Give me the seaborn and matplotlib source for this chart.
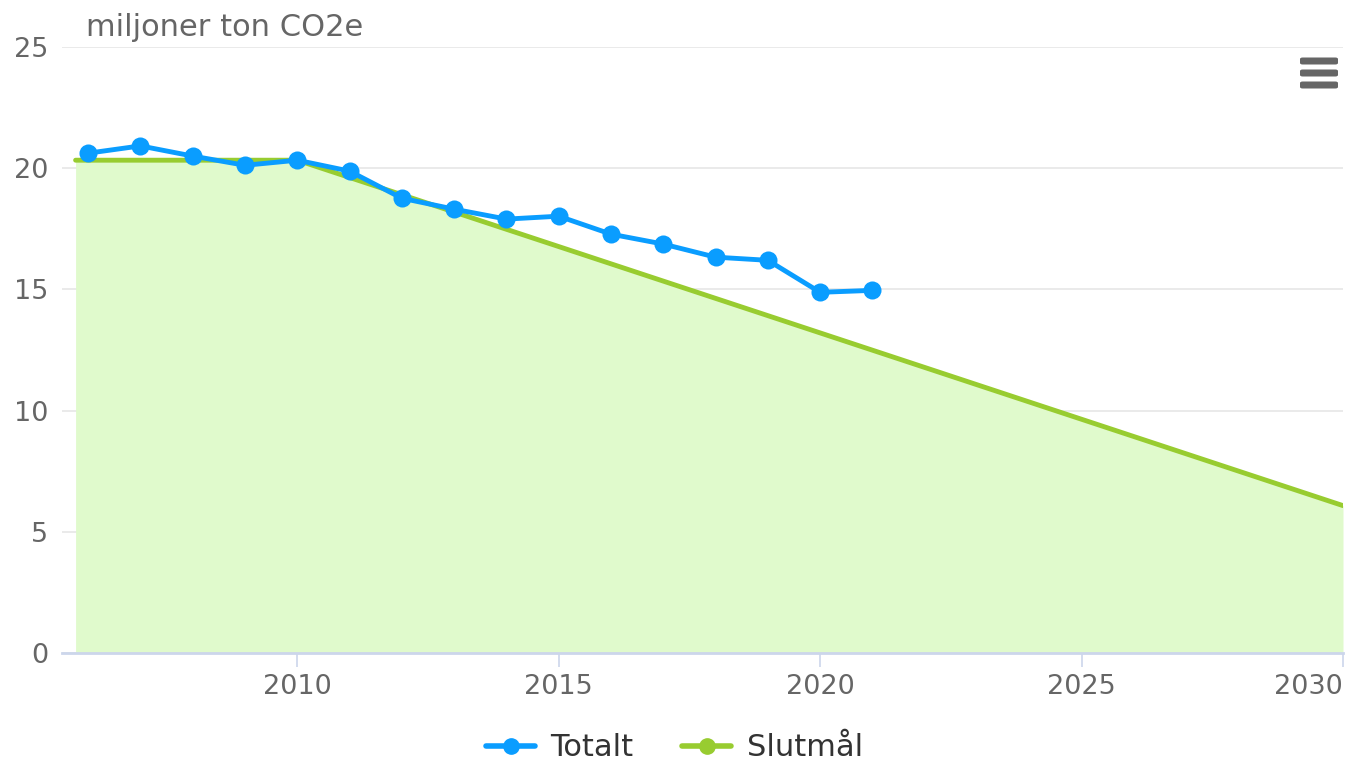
import matplotlib
matplotlib.use("Agg")
import matplotlib.pyplot as plt
import seaborn as sns
import pandas as pd
from matplotlib.patches import FancyBboxPatch
from matplotlib.lines import Line2D

# Data
years_total = [2006, 2007, 2008, 2009, 2010, 2011, 2012, 2013, 2014, 2015,
               2016, 2017, 2018, 2019, 2020, 2021]
totalt = [20.62, 20.92, 20.50, 20.12, 20.33, 19.88, 18.76, 18.31, 17.90, 18.02,
          17.28, 16.87, 16.33, 16.20, 14.88, 14.96]
years_goal = [2005.76, 2010, 2030]
slutmal = [20.33, 20.33, 6.08]
x_ticks = [2010, 2015, 2020, 2025, 2030]
y_ticks = [0, 5, 10, 15, 20, 25]

BLUE = "#0a9dff"
GREEN = "#98cc30"
FILL = "#e0facc"
TXT = "#666666"

sns.set_theme(style="white")
plt.rcParams["font.family"] = ["DejaVu Sans"]

fig = plt.figure(figsize=(13.49, 7.63), dpi=100)
ax = fig.add_axes([62/1349, 1-653/763, (1343-62)/1349, (653-47)/763])

df_t = pd.DataFrame({"year": years_total, "val": totalt})
df_g = pd.DataFrame({"year": years_goal, "val": slutmal})

ax.fill_between(df_g["year"], df_g["val"], 0, color=FILL, lw=0, zorder=1)
sns.lineplot(data=df_g, x="year", y="val", ax=ax, color=GREEN, lw=3.5, zorder=2,
             label="Slutmål", legend=False)
sns.lineplot(data=df_t, x="year", y="val", ax=ax, color=BLUE, lw=3.5, zorder=3,
             marker="o", markersize=13, markeredgewidth=0, label="Totalt", legend=False)

ax.set_xlim(2005.5, 2030)
ax.set_ylim(0, 25)
ax.set_xticks(x_ticks)
ax.set_yticks(y_ticks)
ax.set_xticklabels([str(v) for v in x_ticks])
ax.set_xlabel("")
ax.set_ylabel("")
ax.grid(axis="y", color="#e6e6e6", lw=1.2, zorder=0)
ax.set_axisbelow(True)
for s in ["top", "right", "left"]:
    ax.spines[s].set_visible(False)
ax.spines["bottom"].set_color("#ccd6eb")
ax.spines["bottom"].set_linewidth(2)
ax.tick_params(axis="x", length=10, width=1.2, color="#ccd6eb", labelsize=19.5,
               labelcolor=TXT, pad=5, bottom=True)
ax.tick_params(axis="y", length=0, labelsize=19.5, labelcolor=TXT, pad=10)
ax.get_xticklabels()[-1].set_ha("right")

fig.text(86/1349, 1-28/763, "miljoner ton CO2e", fontsize=22, color=TXT,
         ha="left", va="center")

# Legend
handles = [Line2D([0], [0], color=BLUE, lw=4, marker="o", markersize=11),
           Line2D([0], [0], color=GREEN, lw=4, marker="o", markersize=11)]
leg = fig.legend(handles, ["Totalt", "Slutmål"], loc="center",
                 bbox_to_anchor=(0.5, 1-748/763), ncol=2, frameon=False,
                 fontsize=22, handlelength=1.6, columnspacing=1.6, handletextpad=0.5)
for t in leg.get_texts():
    t.set_color("#333333")

# Menu icon
for yy in [61, 73, 85]:
    fig.add_artist(FancyBboxPatch((1300/1349, 1-(yy+3.5)/763), 38/1349, 7/763,
                                  boxstyle="round,pad=0,rounding_size=0.002",
                                  transform=fig.transFigure, color="#666666", lw=0))

fig.savefig("out.png", dpi=100)
